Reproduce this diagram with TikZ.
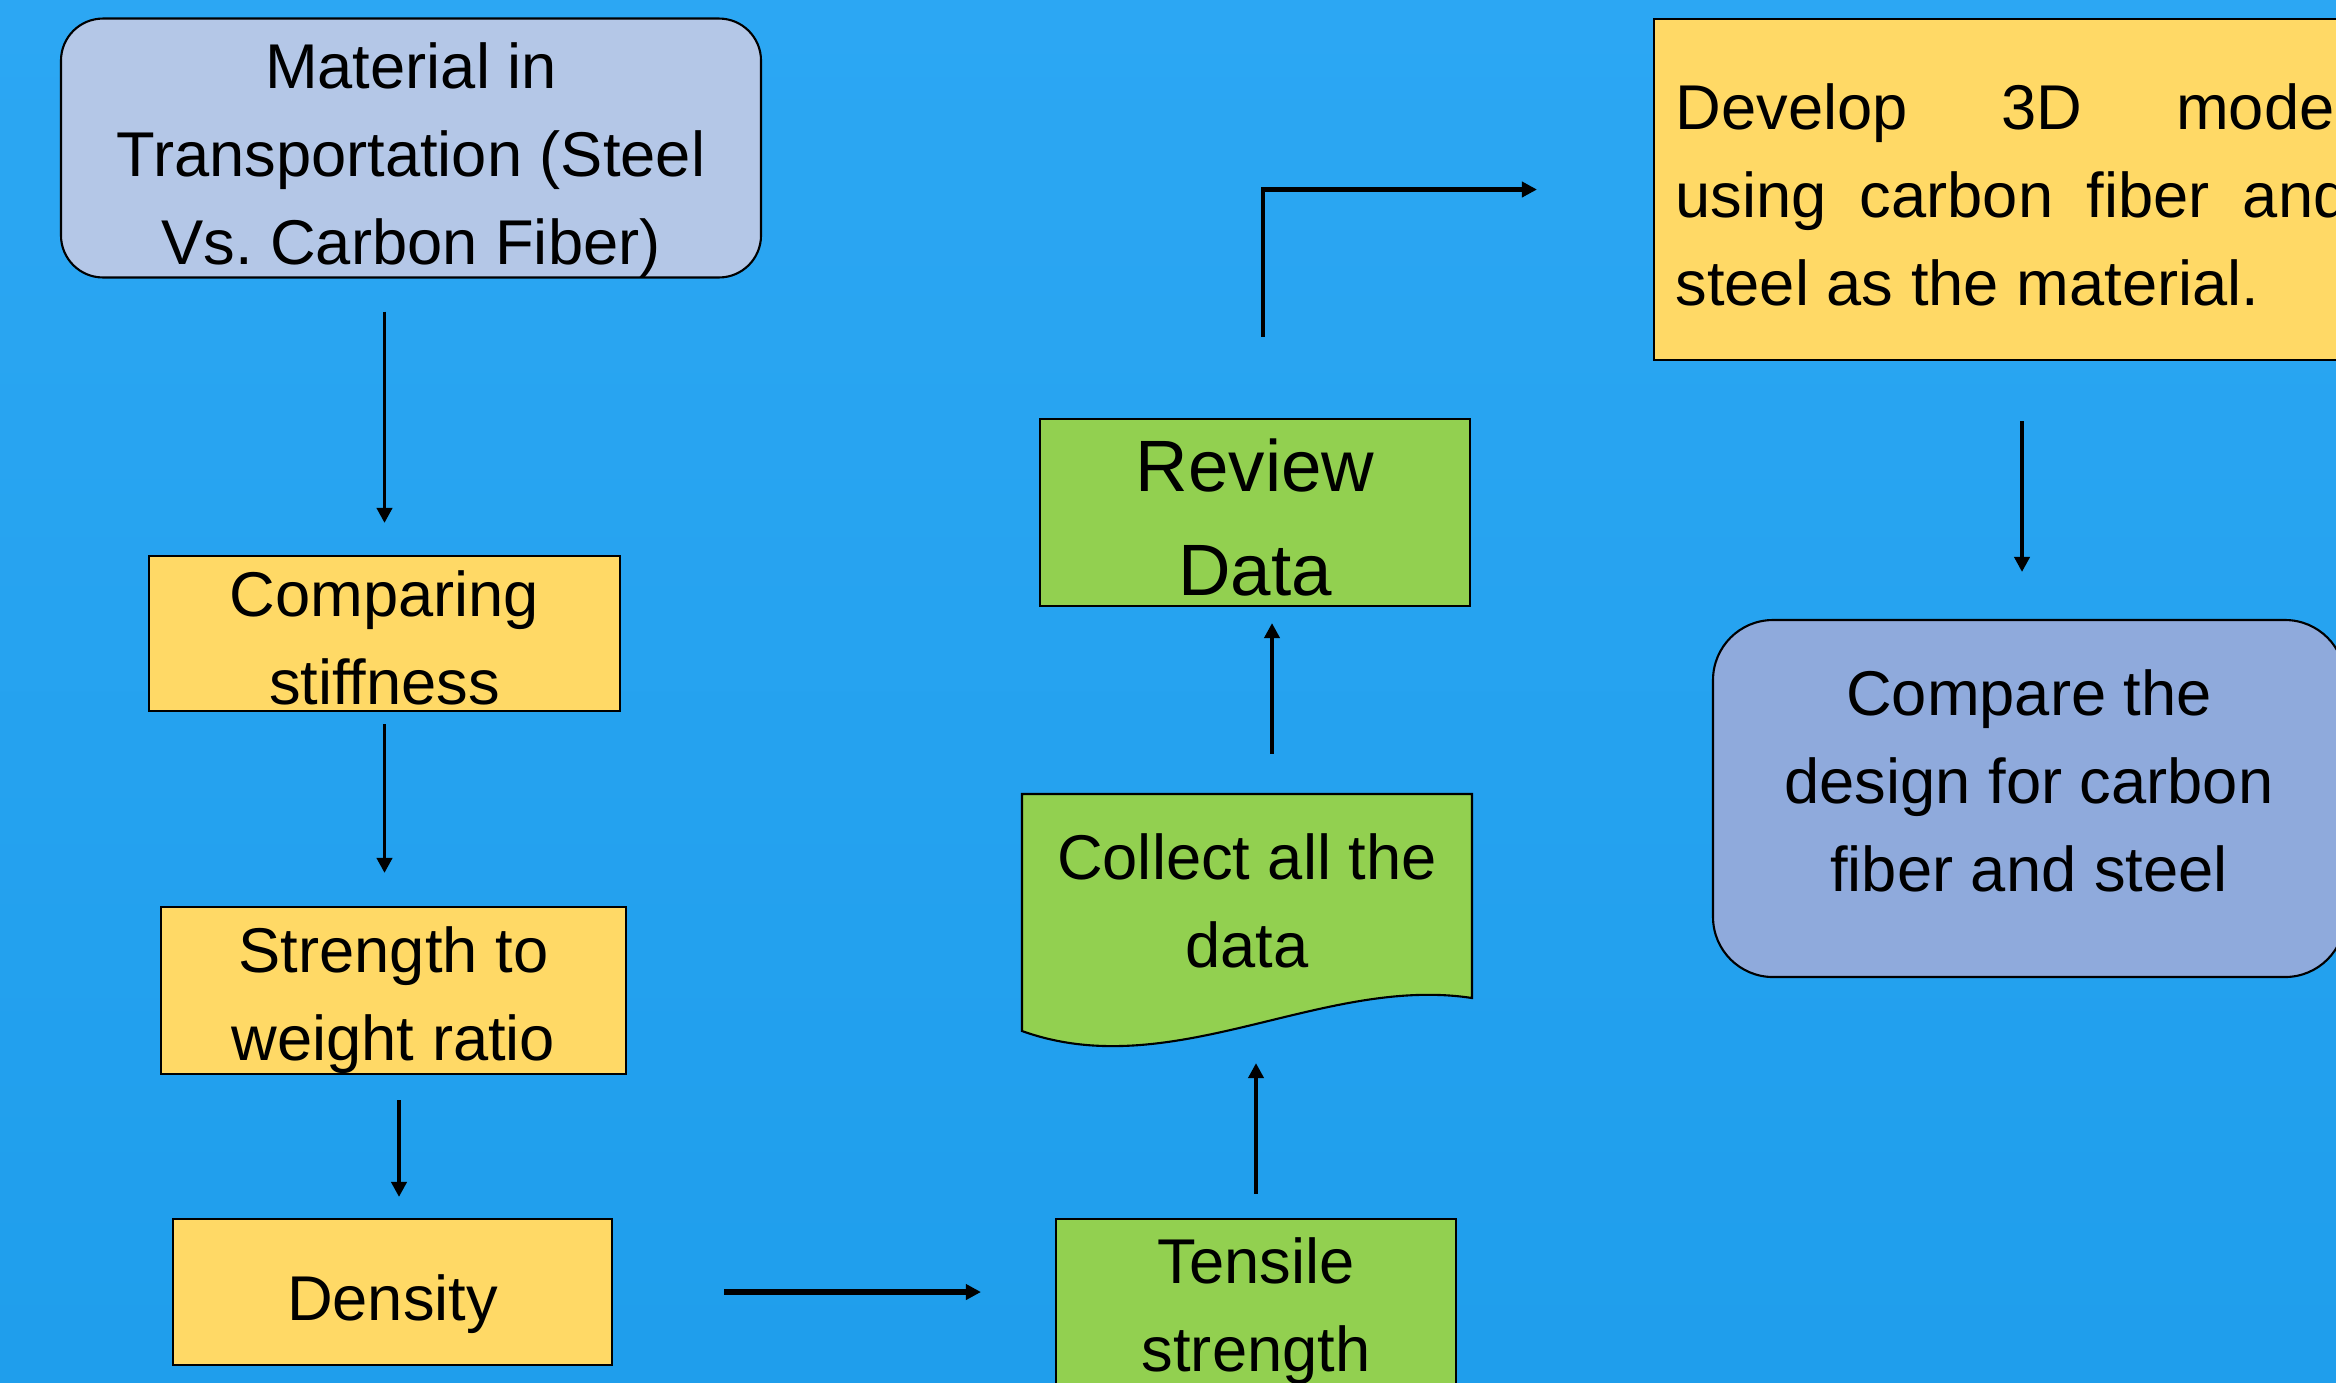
\documentclass[tikz,border=0pt]{standalone}
\usepackage{fontspec}
\setmainfont{Liberation Sans}
\frenchspacing
\usetikzlibrary{arrows.meta}
\definecolor{bgtop}{RGB}{44,167,243}
\definecolor{bgbot}{RGB}{31,158,236}
\definecolor{lavender}{RGB}{180,199,231}
\definecolor{gold}{RGB}{255,217,102}
\definecolor{leaf}{RGB}{146,208,80}
\definecolor{slate}{RGB}{143,170,220}
\newcommand{\padtop}[1]{\rule{0pt}{#1}}
\newcommand{\padbot}[1]{\rule[-#1]{0pt}{#1}}
\tikzset{
  box/.style={draw=black, line width=0.6pt, align=center, inner sep=0pt, font=\fontsize{18}{25}\selectfont},
  flow/.style={-{Triangle[length=0.15cm,width=0.15cm]}, line width=1.1pt},
  flowh/.style={flow, line width=1.5pt}
}

\begin{document}
\begin{tikzpicture}
        \useasboundingbox (0,0) rectangle (23.36,-13.82);
        \clip (0,0) rectangle (23.36,-13.82);
        \shade [top color=bgtop, bottom color=bgbot] (0,0) rectangle (23.36,-13.82);

        % left column
        \node [box, rounded corners=0.42cm, fill=lavender, minimum width=7cm, minimum height=2.58cm] (material) at (4.11,-1.48) {\padtop{0.698cm}Material in\\Transportation (Steel\\Vs. Carbon Fiber)\padbot{0.134cm}};
        \node [box, fill=gold, minimum width=4.71cm, minimum height=1.55cm] (stiff) at (3.845,-6.335) {\padtop{0.552cm}Comparing\\stiffness\padbot{0.01cm}};
        \node [box, fill=gold, minimum width=4.65cm, minimum height=1.67cm] (ratio) at (3.935,-9.905) {\padtop{0.654cm}Strength to\\weight ratio\padbot{0.134cm}};
        \node [box, fill=gold, minimum width=4.39cm, minimum height=1.46cm] (density) at (3.925,-12.92) {\rule[-0.134cm]{0pt}{0.828cm}Density};

        % middle column
        \node [box, fill=leaf, minimum width=4cm, minimum height=1.70cm] (tensile) at (12.56,-13.04) {\padtop{0.596cm}Tensile\\strength\padbot{0.134cm}};
        \draw [fill=leaf, line width=0.6pt] (10.22,-7.94) -- (14.72,-7.94) -- (14.72,-9.98) .. controls (13.22,-9.75) and (11.72,-10.85) .. (10.22,-10.31) -- cycle;
        \node [box, draw=none, minimum width=4.5cm, minimum height=2.16cm] (collect) at (12.47,-9.02) {\padtop{0.463cm}Collect all the\\data\padbot{0.035cm}};
        \node [box, fill=leaf, minimum width=4.3cm, minimum height=1.87cm, font=\fontsize{20.7}{29.6}\selectfont] (review) at (12.55,-5.125) {\padtop{0.634cm}Review\\Data\padbot{0.01cm}};

        % right column
        \node [box, fill=gold, minimum width=7.16cm, minimum height=3.41cm, text width=6.73cm, align=justify] (model) at (20.12,-1.895) {\tolerance=10000 \padtop{0.846cm}Develop 3D model\linebreak using carbon fiber and\linebreak steel as the material.\padbot{0.282cm}};
        \node [box, rounded corners=0.6cm, fill=slate, minimum width=6.32cm, minimum height=3.57cm] (compare) at (20.29,-7.985) {\padtop{0.50cm}Compare the\\design for carbon\\fiber and steel\padbot{0.398cm}};

        \draw [flow, shorten <=0.33cm, shorten >=0.32cm] (stiff.north |- material.south) -- (stiff.north);
        \draw [flow, shorten <=0.12cm, shorten >=0.33cm] (stiff.south) -- (stiff.south |- ratio.north);
        \draw [flow, shorten <=0.25cm, shorten >=0.21cm] ([xshift=0.055cm]ratio.south) -- ([xshift=0.055cm]ratio.south |- density.north);
        \draw [flowh, shorten <=1.11cm, shorten >=0.74cm] (density.east) -- (density.east -| tensile.west);
        \draw [flow, shorten <=0.24cm, shorten >=0.52cm] (tensile.north) -- (tensile.north |- collect.south);
        \draw [flow, shorten <=0.39cm, shorten >=0.16cm] ([xshift=0.25cm]collect.north) -- ([xshift=0.25cm]collect.north |- review.south);
        \draw [flow, line width=1.3pt, shorten <=0.81cm, shorten >=1.16cm] ([xshift=0.08cm]review.north) |- (model.west);
        \draw [flow, shorten <=0.60cm, shorten >=0.47cm] ([xshift=0.1cm]model.south) -- ([xshift=0.1cm]model.south |- compare.north);
\end{tikzpicture}
\end{document}
